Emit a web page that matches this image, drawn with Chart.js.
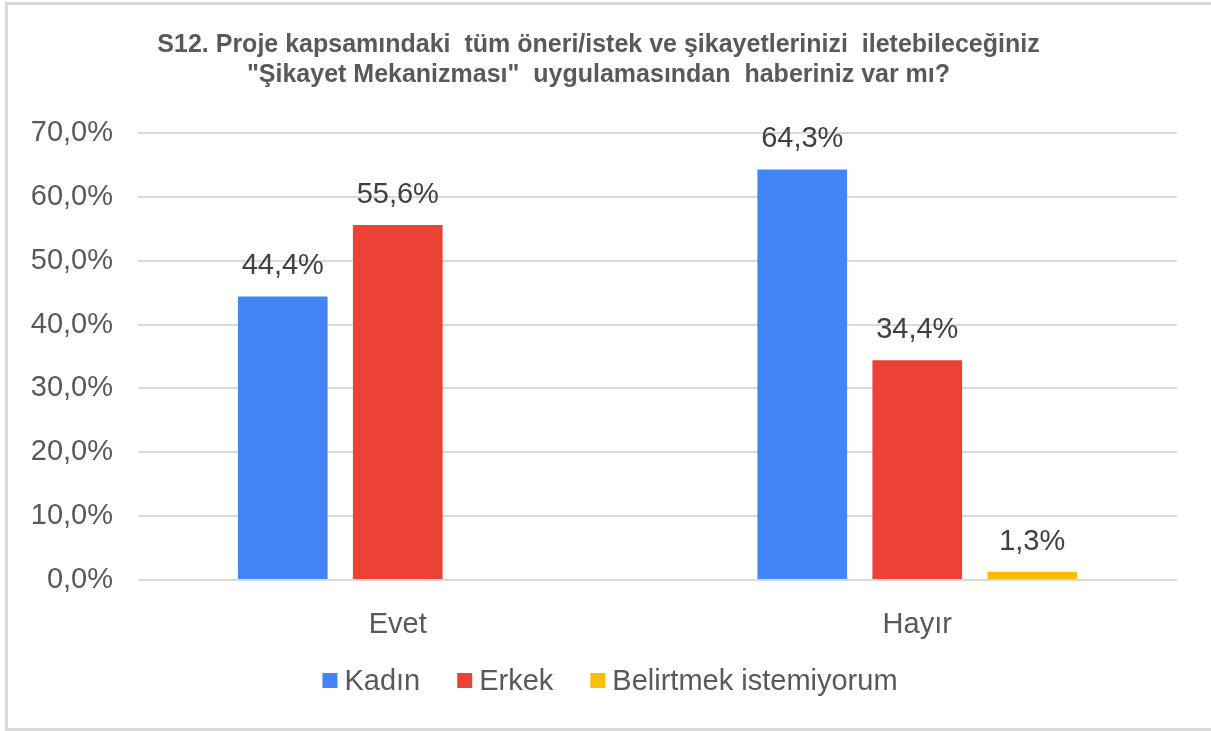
<!DOCTYPE html>
<html lang="tr">
<head>
<meta charset="utf-8">
<script src="https://cdn.jsdelivr.net/npm/chart.js@4.4.1/dist/chart.umd.min.js"></script>
<style>
    html, body { margin: 0; padding: 0; background: #fff; }
    #wrap { position: relative; width: 1211px; height: 731px; overflow: hidden; }
    #frame {
        position: absolute; left: 5px; top: 2px; width: 1220px; height: 723px;
        border: 3px solid #d9d9d9; pointer-events: none;
    }
</style>
</head>
<body>
<div id="wrap">
    <canvas id="grafico" width="1211" height="731"></canvas>
    <div id="frame"></div>
</div>
<script>
const categorias = ['Evet', 'Hayır'];
const kadin = [44.4, 64.3];
const erkek = [55.6, 34.4];
const belirtmek = [null, 1.3];
const tituloLineas = [
    'S12. Proje kapsamındaki  tüm öneri/istek ve şikayetlerinizi  iletebileceğiniz',
    '"Şikayet Mekanizması"  uygulamasından  haberiniz var mı?'
];

const FUENTE = "'Liberation Sans', Arial, sans-serif";
const GRIS = '#595959';

function formatoPct(v) {
    return v.toFixed(1).replace('.', ',') + '%';
}

// etiquetas de valor encima de cada barra
const etiquetasPlugin = {
    id: 'etiquetas',
    afterDatasetsDraw(chart) {
        const ctx = chart.ctx;
        ctx.save();
        ctx.font = '29px ' + FUENTE;
        ctx.fillStyle = '#404040';
        ctx.textAlign = 'center';
        ctx.textBaseline = 'alphabetic';
        chart.data.datasets.forEach((ds, i) => {
            chart.getDatasetMeta(i).data.forEach((bar, j) => {
                const v = ds.data[j];
                if (v == null) return;
                ctx.fillText(formatoPct(v), bar.x, bar.y - 22);
            });
        });
        ctx.restore();
    }
};

// leyenda dibujada a mano para ajustar el espacio caja-texto
const leyendaPlugin = {
    id: 'leyendaManual',
    afterDraw(chart) {
        const ctx = chart.ctx;
        ctx.save();
        ctx.font = '29px ' + FUENTE;
        const caja = 15, hueco = 7, sep = 37;
        const items = chart.data.datasets.map(ds => ({
            texto: ds.label, color: ds.backgroundColor, ancho: ctx.measureText(ds.label).width
        }));
        const total = items.reduce((s, it) => s + caja + hueco + it.ancho, 0) + sep * (items.length - 1);
        let x = 610 - total / 2;
        const y = 681;
        items.forEach(it => {
            ctx.fillStyle = it.color;
            ctx.fillRect(x, y - 8, caja, caja);
            ctx.fillStyle = GRIS;
            ctx.textBaseline = 'middle';
            ctx.textAlign = 'left';
            ctx.fillText(it.texto, x + caja + hueco, y + 1);
            x += caja + hueco + it.ancho + sep;
        });
        ctx.restore();
    }
};

new Chart(document.getElementById('grafico').getContext('2d'), {
    type: 'bar',
    data: {
        labels: categorias,
        datasets: [
            { label: 'Kadın', data: kadin, backgroundColor: '#4285F4' },
            { label: 'Erkek', data: erkek, backgroundColor: '#EA4335' },
            { label: 'Belirtmek istemiyorum', data: belirtmek, backgroundColor: '#FBBC04' }
        ]
    },
    options: {
        responsive: false,
        animation: false,
        devicePixelRatio: 1,
        categoryPercentage: 0.664,
        barPercentage: 0.78,
        layout: { padding: { left: 20, right: 34, top: 0, bottom: 91 } },
        plugins: {
            legend: { display: false },
            tooltip: { enabled: false },
            title: {
                display: true,
                text: tituloLineas,
                color: GRIS,
                font: { family: FUENTE, size: 25, weight: 'bold', lineHeight: 1.2 },
                padding: { top: 30, bottom: 43 }
            }
        },
        scales: {
            x: {
                grid: { display: false },
                border: { display: false },
                ticks: { color: GRIS, font: { family: FUENTE, size: 29 }, padding: 20 },
                afterFit(scale) { scale.height = 60; }
            },
            y: {
                min: 0,
                max: 70,
                border: { display: false },
                grid: { color: '#d9d9d9', lineWidth: 2, drawTicks: false },
                ticks: {
                    stepSize: 10,
                    color: GRIS,
                    font: { family: FUENTE, size: 29 },
                    padding: 25,
                    callback: v => formatoPct(v)
                },
                afterFit(scale) { scale.width = 118; }
            }
        }
    },
    plugins: [etiquetasPlugin, leyendaPlugin]
});
</script>
</body>
</html>
